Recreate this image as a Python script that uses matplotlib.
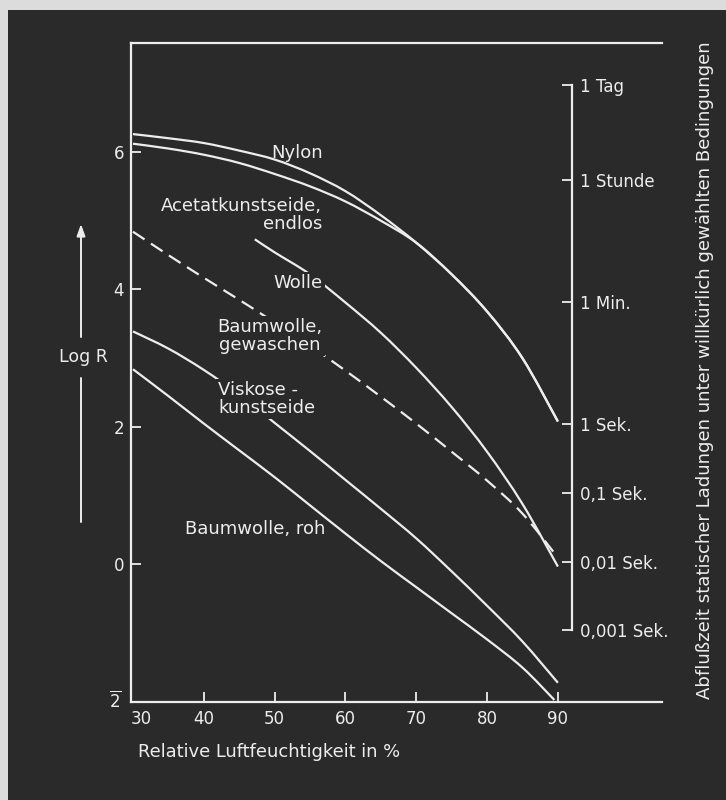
import numpy as np
import matplotlib
matplotlib.use("Agg")
import matplotlib.pyplot as plt
from matplotlib.patches import Rectangle, PathPatch
from matplotlib.path import Path
import matplotlib.transforms as mtransforms

plt.rcParams['font.family'] = ['DejaVu Sans']
plt.rcParams['mathtext.fontset'] = 'dejavusans'
plt.rcParams['lines.scale_dashes'] = False

BG = '#2a2a2a'
FG = '#ededed'
PAPER = '#dcdcdc'

# ---- data (relative humidity %, log R) ----
rh_nylon = [30, 35, 40, 45, 50, 55, 60, 65, 70, 75, 80, 85, 90]
logr_nylon = [6.26, 6.20, 6.13, 6.02, 5.89, 5.69, 5.43, 5.08, 4.68, 4.22, 3.68, 3.00, 2.08]

rh_acetat = [30, 35, 40, 45, 50, 55, 60, 65, 70, 75, 80, 85, 90]
logr_acetat = [6.12, 6.05, 5.96, 5.84, 5.68, 5.50, 5.28, 5.00, 4.68, 4.22, 3.68, 3.00, 2.08]

rh_wolle = [47.2, 50, 55, 60, 65, 70, 75, 80, 85, 90]
logr_wolle = [4.73, 4.54, 4.22, 3.81, 3.37, 2.86, 2.29, 1.64, 0.88, -0.03]

rh_bw_gew = [30, 35, 40, 45, 50, 55, 60, 65, 70, 75, 80, 85, 90]
logr_bw_gew = [4.84, 4.50, 4.17, 3.85, 3.52, 3.18, 2.82, 2.44, 2.05, 1.64, 1.22, 0.74, 0.10]

rh_viskose = [30, 35, 40, 45, 50, 55, 60, 65, 70, 75, 80, 85, 90]
logr_viskose = [3.39, 3.14, 2.83, 2.47, 2.06, 1.65, 1.23, 0.81, 0.38, -0.10, -0.60, -1.12, -1.72]

rh_bw_roh = [30, 35, 40, 45, 50, 55, 60, 65, 70, 75, 80, 85, 89.5]
logr_bw_roh = [2.84, 2.45, 2.05, 1.66, 1.27, 0.86, 0.45, 0.05, -0.33, -0.71, -1.09, -1.50, -1.97]

x_ticks = [30, 40, 50, 60, 70, 80, 90]
x_ticklabels = ['30', '40', '50', '60', '70', '80', '90']
y_ticks = [-2, 0, 2, 4, 6]
y_ticklabels = [r'$\overline{2}$', '0', '2', '4', '6']

time_seconds = [86400, 3600, 60, 1, 0.1, 0.01, 0.001]
time_labels = ['1 Tag', '1 Stunde', '1 Min.', '1 Sek.', '0,1 Sek.', '0,01 Sek.', '0,001 Sek.']
log_offset = 2.04  # log R - log10(t)

curve_labels = ['Nylon', 'Acetatkunstseide,\nendlos', 'Wolle',
                'Baumwolle,\ngewaschen', 'Viskose -\nkunstseide', 'Baumwolle, roh']
label_x = [53.2, 56.7, 56.8, 49.35, 42.0, 47.2]
label_y = [5.99, 5.08, 4.09, 3.32, 2.41, 0.51]
label_ha = ['center', 'right', 'right', 'center', 'left', 'center']
label_masks_line = [False, False, True, True, True, False]


def smooth_path(xs, ys):
    """Catmull-Rom curve through the given points, as cubic Bezier path."""
    p = np.column_stack([xs, ys]).astype(float)
    ext = np.vstack([p[0], p, p[-1]])
    verts = [p[0]]
    codes = [Path.MOVETO]
    for i in range(1, len(ext) - 2):
        p0, p1, p2, p3 = ext[i - 1], ext[i], ext[i + 1], ext[i + 2]
        c1 = p1 + (p2 - p0) / 6.0
        c2 = p2 - (p3 - p1) / 6.0
        verts += [c1, c2, p2]
        codes += [Path.CURVE4] * 3
    return Path(verts, codes)


# ---- figure ----
W, H = 726, 800
fig = plt.figure(figsize=(W / 100, H / 100), dpi=100)
fig.patch.set_facecolor(PAPER)
fig.add_artist(Rectangle((8 / W, 0), 1, (H - 10) / H, transform=fig.transFigure,
                         facecolor=BG, edgecolor='none', zorder=0))

ax_l, ax_r, ax_t, ax_b = 131, 662, 43, 702
ax = fig.add_axes([ax_l / W, 1 - ax_b / H, (ax_r - ax_l) / W, (ax_b - ax_t) / H])
ax.set_facecolor('none')
ax.set_xlim(29.72, 104.7)
ax.set_ylim(-2, 7.585)

lw = 1.6
for xs, ys in [(rh_nylon, logr_nylon), (rh_acetat, logr_acetat), (rh_wolle, logr_wolle),
               (rh_viskose, logr_viskose), (rh_bw_roh, logr_bw_roh)]:
    ax.add_patch(PathPatch(smooth_path(xs, ys), fill=False, ec=FG, lw=lw,
                           capstyle='butt', zorder=2))
ax.add_patch(PathPatch(smooth_path(rh_bw_gew, logr_bw_gew), fill=False, ec=FG, lw=lw,
                       ls=(0, (10, 5.5)), capstyle='butt', zorder=2))

for txt, x, y, ha, mask in zip(curve_labels, label_x, label_y, label_ha, label_masks_line):
    bbox = dict(boxstyle='square,pad=0.12', fc=BG, ec='none') if mask else None
    ax.text(x, y, txt, ha=ha, va='center', multialignment=ha, color=FG,
            fontsize=13, linespacing=1.0, zorder=3, bbox=bbox)

for s in ['left', 'bottom', 'top']:
    ax.spines[s].set_color(FG)
    ax.spines[s].set_linewidth(1.6)
ax.spines['right'].set_visible(False)

ax.set_xticks(x_ticks, x_ticklabels)
ax.set_yticks(y_ticks, y_ticklabels)
ax.tick_params(axis='both', direction='in', colors=FG, width=1.3, length=7, labelsize=12)
ax.tick_params(axis='x', pad=6)
ax.tick_params(axis='y', pad=5)
ax.xaxis.get_major_ticks()[0].tick1line.set_visible(False)
ax.yaxis.get_major_ticks()[0].tick1line.set_visible(False)
xt = ax.get_xticklabels()
xt[0].set_transform(xt[0].get_transform() +
                    mtransforms.ScaledTranslation(8 / 100, 0, fig.dpi_scale_trans))
yl = ax.get_yticklabels()
yl[0].set_transform(yl[0].get_transform() +
                    mtransforms.ScaledTranslation(-2 / 100, 3 / 100, fig.dpi_scale_trans))

# ---- secondary time axis ----
sec = ax.secondary_yaxis((572 - ax_l) / (ax_r - ax_l),
                         functions=(lambda y: y - log_offset, lambda t: t + log_offset))
sec.set_yticks(np.log10(time_seconds), time_labels)
sec.spines['right'].set_bounds(np.log10(0.001), np.log10(86400))
sec.spines['right'].set_color(FG)
sec.spines['right'].set_linewidth(1.6)
sec.tick_params(axis='y', direction='in', colors=FG, width=1.3, length=7,
                labelsize=12, pad=6)

# ---- annotations ----
fig.text(138 / W, 1 - 752 / H, 'Relative Luftfeuchtigkeit in %', color=FG,
         fontsize=12.9, ha='left', va='center')
fig.text(705 / W, 1 - 370 / H,
         'Abflußzeit statischer Ladungen unter willkürlich gewählten Bedingungen',
         color=FG, fontsize=13.1, rotation=90, ha='center', va='center')
fig.text(83 / W, 1 - 357 / H, 'Log R', color=FG, fontsize=12.5, ha='center', va='center')
ax.annotate('', xy=(81, H - 224), xytext=(81, H - 337), xycoords='figure pixels',
            textcoords='figure pixels',
            arrowprops=dict(arrowstyle='-|>,head_length=0.7,head_width=0.25',
                            color=FG, lw=1.4, shrinkA=0, shrinkB=0))
ax.annotate('', xy=(81, H - 378), xytext=(81, H - 522), xycoords='figure pixels',
            textcoords='figure pixels',
            arrowprops=dict(arrowstyle='-', color=FG, lw=1.4, shrinkA=0, shrinkB=0))

fig.savefig('out.png', dpi=100, facecolor=fig.get_facecolor())
